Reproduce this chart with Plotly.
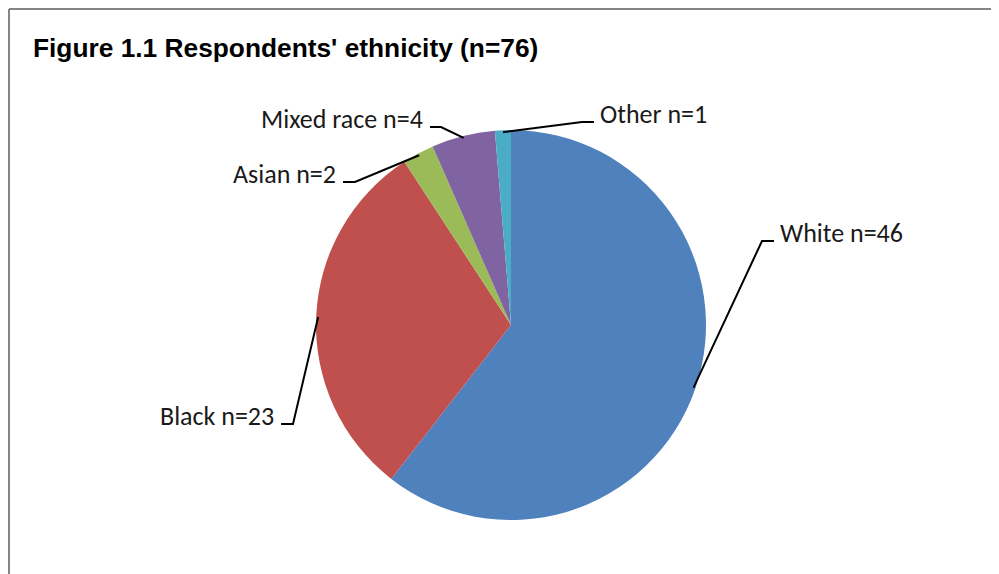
import math
import plotly.graph_objects as go

# ---- data ----
categories = ["White", "Black", "Asian", "Mixed race", "Other"]
counts = [46, 23, 2, 4, 1]
colors = ["#4F81BD", "#C0504D", "#9BBB59", "#8064A2", "#4BACC6"]
title_text = "Figure 1.1 Respondents' ethnicity (n=76)"

# ---- layout constants (page pixels) ----
W, H = 999, 574
OFF = 8  # page body margin
CX, CY, R = 511, 325, 195


def px(x):
    return (x - OFF) / W


def py(y):
    return 1 - (y - OFF) / H


# label elbow positions and text side
elbows = {
    "White": ((762, 241), (774, 241), "left"),
    "Black": ((293, 424), (281, 424), "right"),
    "Asian": ((355, 182), (343, 182), "right"),
    "Mixed race": ((441, 127), (430, 127), "right"),
    "Other": ((582, 122), (594, 122), "left"),
}

fig = go.Figure()
fig.add_trace(go.Pie(
    labels=categories, values=counts, sort=False, direction="clockwise", rotation=0,
    marker=dict(colors=colors, line=dict(width=0)), textinfo="none", hoverinfo="label+value",
    showlegend=False,
    domain=dict(x=[px(CX - R), px(CX + R)], y=[py(CY + R), py(CY - R)]),
))

shapes = []
annotations = []
total = sum(counts)
cum = 0
for cat, v in zip(categories, counts):
    mid = (cum + v / 2) / total * 360.0
    cum += v
    ang = math.radians(90 - mid)
    sx = CX + (R - 2) * math.cos(ang)
    sy = CY - (R - 2) * math.sin(ang)
    (ex, ey), (hx, hy), side = elbows[cat]
    path = f"M {px(sx)} {py(sy)} L {px(ex)} {py(ey)} L {px(hx)} {py(hy)}"
    shapes.append(dict(type="path", xref="paper", yref="paper", path=path,
                       line=dict(color="black", width=2)))
    tx = hx + 4 if side == "left" else hx - 5
    annotations.append(dict(
        x=px(tx), y=py(hy - 8), xref="paper", yref="paper",
        text=f"{cat} n={v}", showarrow=False,
        xanchor="left" if side == "left" else "right", yanchor="middle",
        font=dict(family="Carlito, Lato, Open Sans, sans-serif", size=26, color="#1a1a1a"),
    ))

# frame lines (top and left)
shapes.append(dict(type="line", xref="paper", yref="paper", x0=px(9), x1=1, y0=py(9), y1=py(9),
                   line=dict(color="#858585", width=2)))
shapes.append(dict(type="line", xref="paper", yref="paper", x0=px(9), x1=px(9), y0=0, y1=py(9),
                   line=dict(color="#858585", width=2)))

annotations.append(dict(
    x=px(31), y=py(48), xref="paper", yref="paper", text=f"<b>{title_text}</b>",
    showarrow=False, xanchor="left", yanchor="middle",
    font=dict(family="Liberation Sans Narrow, Arial Narrow, Liberation Sans, sans-serif", size=26.3, color="black"),
))

fig.update_layout(
    width=W, height=H, margin=dict(l=0, r=0, t=0, b=0),
    paper_bgcolor="white", plot_bgcolor="white",
    shapes=shapes, annotations=annotations,
)

fig.write_html("out.html")
